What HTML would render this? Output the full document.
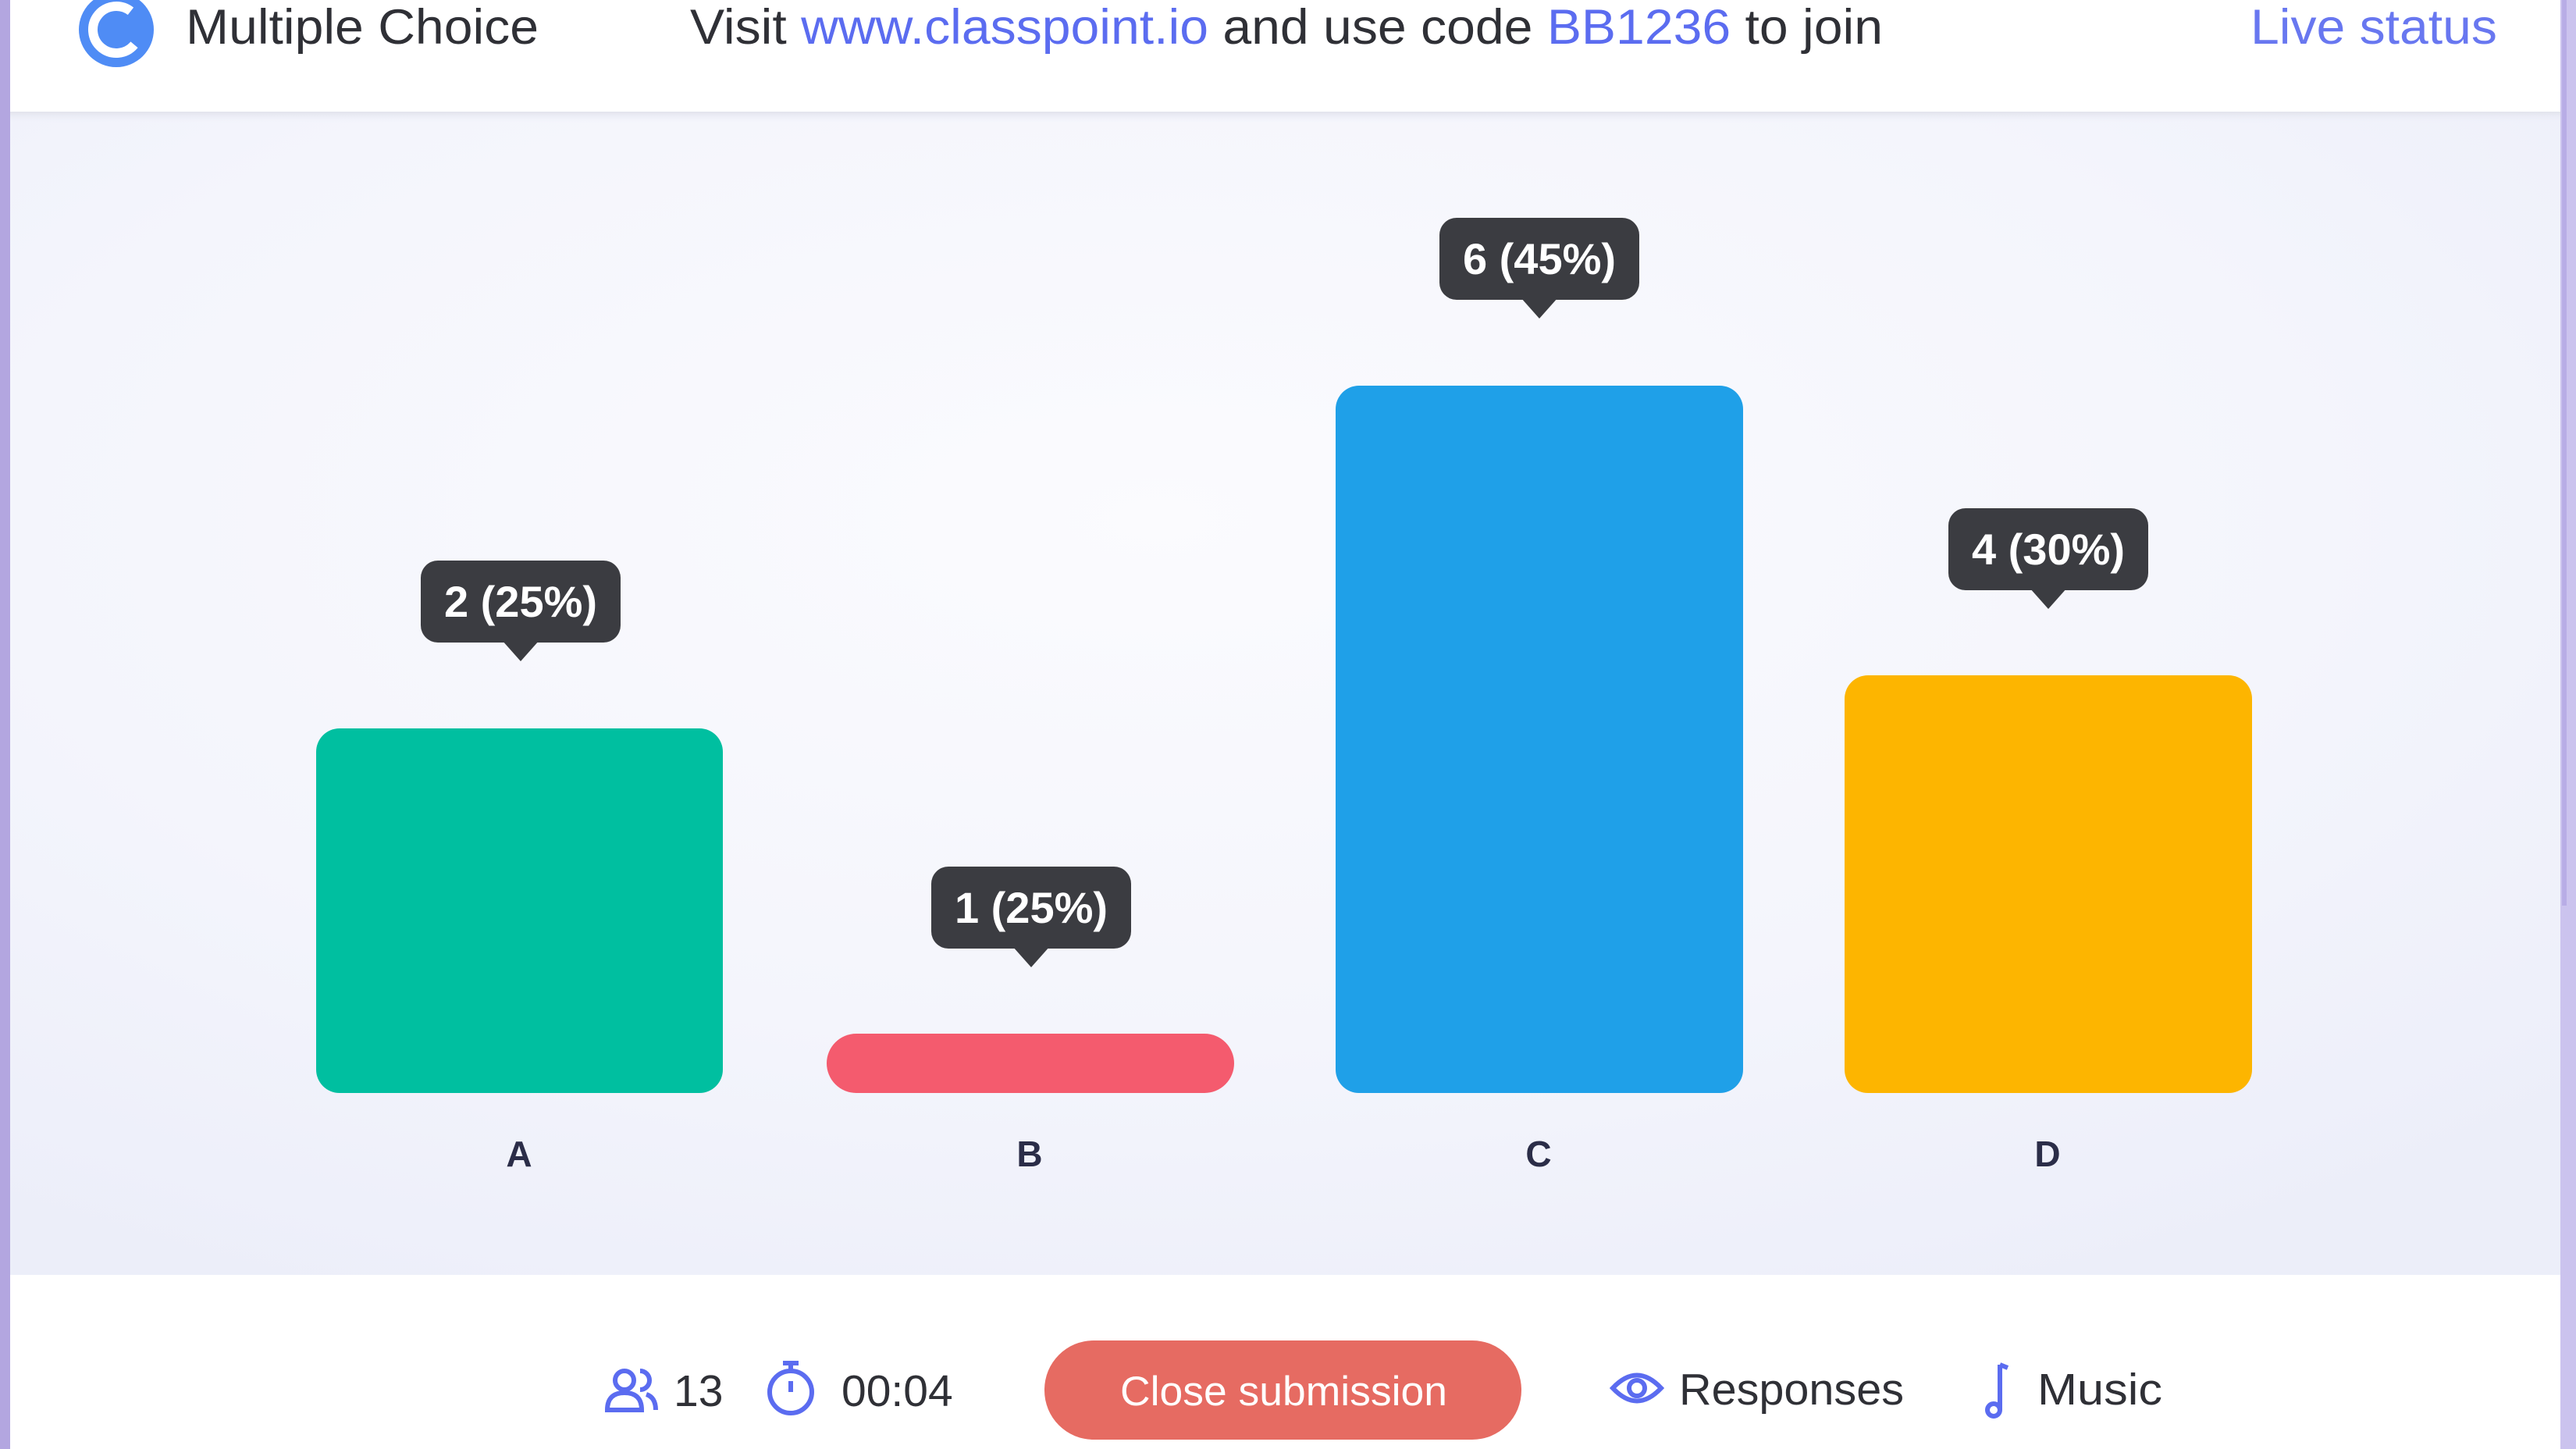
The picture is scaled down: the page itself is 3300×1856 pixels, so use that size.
<!DOCTYPE html>
<html><head><meta charset="utf-8"><style>
html,body{margin:0;padding:0;width:3300px;height:1856px;overflow:hidden;background:#fff}
svg{display:block}
text{font-family:"Liberation Sans",sans-serif}
</style></head><body>
<svg width="3300" height="1856" viewBox="0 0 3300 1856" xmlns="http://www.w3.org/2000/svg">
<defs>
<radialGradient id="bg" cx="0.45" cy="0.35" r="0.75">
<stop offset="0" stop-color="#fbfbfe"/>
<stop offset="0.6" stop-color="#f4f5fc"/>
<stop offset="1" stop-color="#eceef9"/>
</radialGradient>
<linearGradient id="hs" x1="0" y1="0" x2="0" y2="1">
<stop offset="0" stop-color="#e2e3ec"/><stop offset="1" stop-color="#eceef9" stop-opacity="0"/>
</linearGradient>
</defs>
<rect width="3300" height="1856" fill="#fff"/>
<rect x="0" y="143" width="3300" height="1490" fill="url(#bg)"/>
<rect x="0" y="143" width="3300" height="14" fill="url(#hs)"/>
<rect x="0" y="0" width="13" height="1856" fill="#b3a6e0"/>
<rect x="3280" y="0" width="20" height="1856" fill="#cbc3ee"/>
<rect x="3282" y="0" width="6" height="1160" fill="#b8ade6"/>
<circle cx="149" cy="38" r="48" fill="#4f8cf5"/>
<circle cx="149" cy="38" r="30" fill="none" stroke="#fff" stroke-width="12" stroke-dasharray="140 60" transform="rotate(40 149 38)"/>
<text x="238" y="56" font-size="63" fill="#2f3036" textLength="452" lengthAdjust="spacingAndGlyphs">Multiple Choice</text>
<text x="884" y="56" font-size="63" fill="#2f3036" textLength="1528" lengthAdjust="spacingAndGlyphs">Visit <tspan fill="#5b6cf0">www.classpoint.io</tspan> and use code <tspan fill="#5b6cf0">BB1236</tspan> to join</text>
<text x="2883" y="56" font-size="63" fill="#6877f0" textLength="316" lengthAdjust="spacingAndGlyphs">Live status</text>
<rect x="405" y="933" width="521" height="467" rx="30" fill="#00bfa0"/>
<rect x="1059" y="1324" width="522" height="76" rx="38" fill="#f45b6e"/>
<rect x="1711" y="494" width="522" height="906" rx="30" fill="#1fa0e8"/>
<rect x="2363" y="865" width="522" height="535" rx="30" fill="#fdb500"/>
<g fill="#3b3c41">
<rect x="539" y="718" width="256" height="105" rx="22"/><path d="M643 820 L667 847 L691 820Z"/>
<rect x="1193" y="1110" width="256" height="105" rx="22"/><path d="M1297 1212 L1321 1239 L1345 1212Z"/>
<rect x="1844" y="279" width="256" height="105" rx="22"/><path d="M1948 381 L1972 408 L1996 381Z"/>
<rect x="2496" y="651" width="256" height="105" rx="22"/><path d="M2600 753 L2624 780 L2648 753Z"/>
</g>
<g font-size="56" font-weight="bold" fill="#fff" text-anchor="middle">
<text x="667" y="790">2 (25%)</text>
<text x="1321" y="1182">1 (25%)</text>
<text x="1972" y="351">6 (45%)</text>
<text x="2624" y="723">4 (30%)</text>
</g>
<g font-size="46" font-weight="bold" fill="#2b2d48" text-anchor="middle">
<text x="665" y="1494">A</text><text x="1319" y="1494">B</text><text x="1971" y="1494">C</text><text x="2623" y="1494">D</text>
</g>
<g stroke="#5b6cf0" stroke-width="6" fill="none">
<circle cx="800" cy="1768" r="12"/><path d="M778 1806 Q778 1784 800 1784 Q822 1784 822 1806Z"/>
<path d="M820 1756 a12 12 0 0 1 0 24 M828 1786 Q840 1790 840 1806"/>
<circle cx="1013" cy="1783" r="27"/><path d="M1013 1748 v8 M1003 1746 h20 M1013 1783 v-14"/>
<path d="M2066 1778 Q2097 1745 2128 1778 Q2097 1811 2066 1778Z"/><circle cx="2097" cy="1778" r="10"/>
<path d="M2562 1748 v58 M2562 1748 l10 4"/><circle cx="2554" cy="1806" r="8"/>
</g>
<g font-size="57" fill="#2f3036">
<text x="863" y="1801">13</text>
<text x="1078" y="1801">00:04</text>
<text x="2151" y="1799" textLength="288" lengthAdjust="spacingAndGlyphs">Responses</text>
<text x="2610" y="1799" textLength="160" lengthAdjust="spacingAndGlyphs">Music</text>
</g>
<rect x="1338" y="1717" width="611" height="127" rx="63" fill="#e66b62"/>
<text x="1435" y="1800" font-size="53" fill="#fff" textLength="419" lengthAdjust="spacingAndGlyphs">Close submission</text>
</svg>
</body></html>
